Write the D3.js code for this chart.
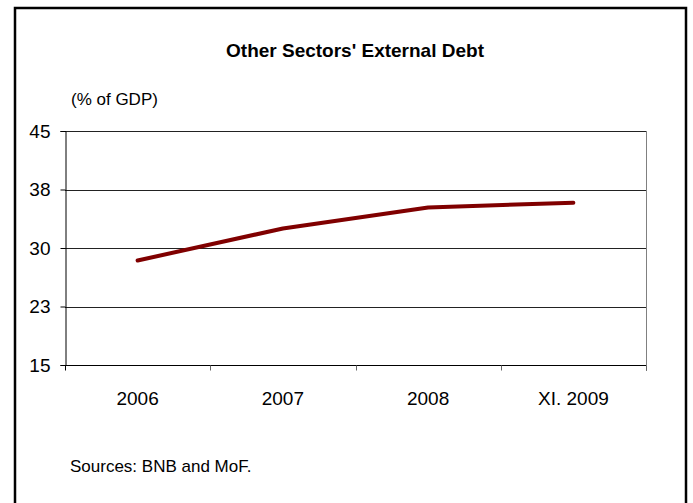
<!DOCTYPE html>
<html>
<head>
<meta charset="utf-8">
<script src="https://cdn.jsdelivr.net/npm/d3@7"></script>
<style>
  body { margin: 0; background: #fff; }
  svg { font-family: "Liberation Sans", Arial, sans-serif; }
</style>
</head>
<body>
<div id="chart"></div>
<script>
// chart data
const categories = ["2006", "2007", "2008", "XI. 2009"];
const debtValues = [28.4, 32.5, 35.2, 35.8];
const yTickValues = [15, 22.5, 30, 37.5, 45];
const yTickLabels = ["15", "23", "30", "38", "45"];

const width = 693, height = 503;
const margin = {top: 131, right: 47, bottom: 138, left: 65};
const plotW = width - margin.left - margin.right;
const plotH = height - margin.top - margin.bottom;

const svg = d3.select("#chart")
  .append("svg")
    .attr("width", width)
    .attr("height", height);

// outer frame (bottom edge runs off the picture)
svg.append("rect")
  .attr("x", 15)
  .attr("y", 8)
  .attr("width", 671)
  .attr("height", 510)
  .attr("fill", "none")
  .attr("stroke", "#000")
  .attr("stroke-width", 2.5);

svg.append("text")
  .attr("x", 355)
  .attr("y", 57)
  .attr("text-anchor", "middle")
  .style("font-size", "19px")
  .style("font-weight", "bold")
  .text("Other Sectors' External Debt");

svg.append("text")
  .attr("x", 71)
  .attr("y", 105)
  .style("font-size", "17px")
  .text("(% of GDP)");

svg.append("text")
  .attr("x", 70)
  .attr("y", 472)
  .style("font-size", "17px")
  .text("Sources: BNB and MoF.");

const g = svg.append("g")
  .attr("transform", "translate(" + margin.left + "," + margin.top + ")");

const x = d3.scaleBand()
  .domain(categories)
  .range([0, plotW]);

const y = d3.scaleLinear()
  .domain([15, 45])
  .range([plotH, 0]);

// horizontal gridlines
g.append("g")
  .selectAll("line")
  .data(yTickValues.slice(1))
  .enter()
  .append("line")
    .attr("x1", 0)
    .attr("x2", plotW)
    .attr("y1", d => Math.round(y(d)) + 0.5)
    .attr("y2", d => Math.round(y(d)) + 0.5)
    .attr("stroke", "#222")
    .attr("stroke-width", 1);

// right edge of plot area
g.append("line")
  .attr("x1", plotW + 0.5).attr("x2", plotW + 0.5)
  .attr("y1", 0).attr("y2", plotH + 6)
  .attr("stroke", "#808080");

// y axis
g.append("g")
  .attr("transform", "translate(0.5,0)")
  .call(d3.axisLeft(y)
    .tickValues(yTickValues)
    .tickFormat((d, i) => yTickLabels[i])
    .tickSize(5)
    .tickPadding(10))
  .call(ax => ax.select(".domain").attr("stroke", "#000"))
  .call(ax => ax.selectAll("text").style("font-size", "19px").attr("fill", "#000"));

// x axis: ticks on category boundaries
const bounds = categories.map(c => x(c)).concat([plotW]);
const xAxis = g.append("g")
  .attr("transform", "translate(0," + (Math.round(plotH) + 0.5) + ")");
xAxis.append("line")
  .attr("x1", 0).attr("x2", plotW)
  .attr("stroke", "#000");
xAxis.selectAll(".tk")
  .data(bounds)
  .enter()
  .append("line")
    .attr("class", "tk")
    .attr("x1", d => Math.round(d) + 0.5)
    .attr("x2", d => Math.round(d) + 0.5)
    .attr("y1", 0).attr("y2", 5)
    .attr("stroke", (d, i) => i === 0 ? "#000" : "#666");
xAxis.selectAll(".lbl")
  .data(categories)
  .enter()
  .append("text")
    .attr("class", "lbl")
    .attr("x", d => x(d) + x.bandwidth() / 2)
    .attr("y", 39)
    .attr("text-anchor", "middle")
    .style("font-size", "19px")
    .text(d => d);

// the line
const line = d3.line()
  .x((d, i) => x(categories[i]) + x.bandwidth() / 2)
  .y(d => y(d));

g.append("path")
  .datum(debtValues)
  .attr("d", line)
  .attr("fill", "none")
  .attr("stroke", "#800000")
  .attr("stroke-width", 4)
  .attr("stroke-linejoin", "round")
  .attr("stroke-linecap", "round");
</script>
</body>
</html>
